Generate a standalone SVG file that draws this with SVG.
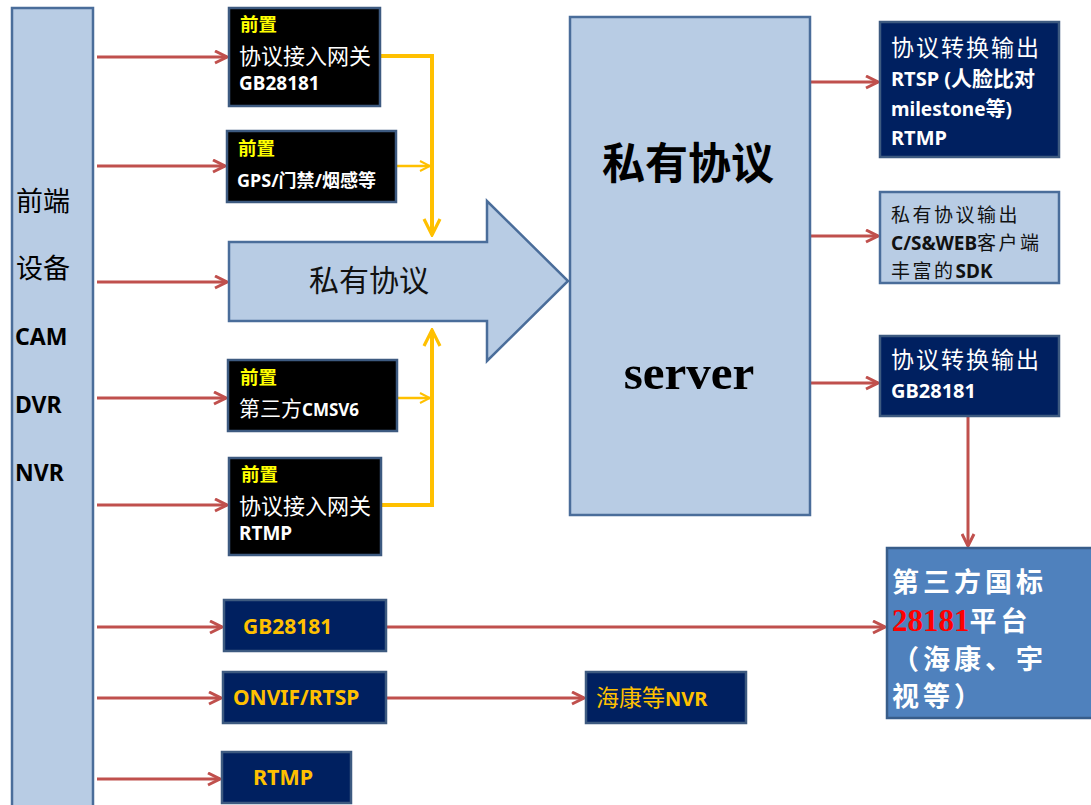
<svg xmlns="http://www.w3.org/2000/svg" width="1091" height="805" viewBox="0 0 1091 805">
<defs>
<style>
.lb{fill:#b8cce4;stroke:#4a6d9a;stroke-width:2.5}
.blk{fill:#000;stroke:#3d5a80;stroke-width:2.5}
.nv{fill:#002060;stroke:#3d5a80;stroke-width:2.5}
.t{font-family:"Noto Sans","Noto Sans CJK SC",sans-serif}
.cj{font-family:"Noto Sans CJK SC",sans-serif}
.yb{fill:#ffff00;font-weight:bold;font-size:18.5px}
.w{fill:#fff}
.red{stroke:#c0504d;stroke-width:3;fill:none}
.yel{stroke:#ffc000;stroke-width:4;fill:none}
.yel2{stroke:#ffc000;stroke-width:2.5;fill:none}
.pf{font-size:27px;font-weight:bold;letter-spacing:4px}
.pc{font-family:"Noto Sans CJK SC",sans-serif;font-weight:normal;font-size:19px;letter-spacing:2.5px}
</style>
<marker id="ra" viewBox="0 0 10 10" refX="9" refY="5" markerWidth="5" markerHeight="5" orient="auto" markerUnits="strokeWidth">
<path d="M1,1 L9,5 L1,9" fill="none" stroke="#c0504d" stroke-width="2"/>
</marker>
<marker id="ya" viewBox="0 0 10 10" refX="9" refY="5" markerWidth="5" markerHeight="5" orient="auto" markerUnits="strokeWidth">
<path d="M1,1 L9,5 L1,9" fill="none" stroke="#ffc000" stroke-width="1.6"/>
</marker>
<marker id="ya2" viewBox="0 0 10 10" refX="9" refY="5" markerWidth="5" markerHeight="5" orient="auto" markerUnits="strokeWidth">
<path d="M1,1 L9,5 L1,9" fill="none" stroke="#ffc000" stroke-width="1.6"/>
</marker>
</defs>
<rect width="1091" height="805" fill="#fff"/>

<g id="connectors">
<line class="red" x1="97" y1="57" x2="227" y2="57" marker-end="url(#ra)"/>
<line class="red" x1="97" y1="166" x2="225" y2="166" marker-end="url(#ra)"/>
<line class="red" x1="97" y1="282" x2="227" y2="282" marker-end="url(#ra)"/>
<line class="red" x1="97" y1="398" x2="226" y2="398" marker-end="url(#ra)"/>
<line class="red" x1="97" y1="505" x2="227" y2="505" marker-end="url(#ra)"/>
<line class="red" x1="97" y1="627" x2="222" y2="627" marker-end="url(#ra)"/>
<line class="red" x1="97" y1="698" x2="221" y2="698" marker-end="url(#ra)"/>
<line class="red" x1="97" y1="779" x2="220" y2="779" marker-end="url(#ra)"/>
<line class="red" x1="810" y1="82" x2="878" y2="82" marker-end="url(#ra)"/>
<line class="red" x1="810" y1="236" x2="878" y2="236" marker-end="url(#ra)"/>
<line class="red" x1="810" y1="383" x2="878" y2="383" marker-end="url(#ra)"/>
<line class="red" x1="968" y1="417" x2="968" y2="546" marker-end="url(#ra)"/>
<line class="red" x1="387" y1="627" x2="885" y2="627" marker-end="url(#ra)"/>
<line class="red" x1="387" y1="698" x2="584" y2="698" marker-end="url(#ra)"/>
<polyline class="yel" points="381,56 432,56 432,235" marker-end="url(#ya)"/>
<polyline class="yel" points="382,505 432,505 432,330" marker-end="url(#ya)"/>
<line class="yel2" x1="397" y1="166" x2="430" y2="166" marker-end="url(#ya2)"/>
<line class="yel2" x1="398" y1="398" x2="430" y2="398" marker-end="url(#ya2)"/>
</g>

<g id="front">
<rect class="lb" x="12" y="8" width="81" height="810"/>
<text class="cj" x="16" y="211" font-size="27">前端</text>
<text class="cj" x="16" y="278" font-size="27">设备</text>
<text class="t" x="15" y="345" font-size="23" font-weight="bold">CAM</text>
<text class="t" x="15" y="413" font-size="23" font-weight="bold">DVR</text>
<text class="t" x="15" y="481" font-size="23" font-weight="bold">NVR</text>
</g>

<g id="gw-gb">
<rect class="blk" x="229" y="8" width="151" height="98"/>
<text class="t yb" x="240" y="31">前置</text>
<text class="cj w" x="239" y="64" font-size="22">协议接入网关</text>
<text class="t w" x="239" y="90" font-size="19" font-weight="bold">GB28181</text>
</g>

<g id="gw-gps">
<rect class="blk" x="227" y="131" width="169" height="71"/>
<text class="t yb" x="238" y="155">前置</text>
<text class="t w" x="237" y="187" font-size="18" font-weight="bold">GPS/门禁/烟感等</text>
</g>

<g id="private-arrow">
<path class="lb" d="M229,242 L487,242 L487,201 L568,281 L487,361 L487,321 L229,321 Z"/>
<text class="cj" x="369" y="291" font-size="30" text-anchor="middle" fill="#111">私有协议</text>
</g>

<g id="gw-cms">
<rect class="blk" x="228" y="360" width="169" height="71"/>
<text class="t yb" x="240" y="384">前置</text>
<text class="cj w" x="239" y="416" font-size="21">第三方<tspan class="t" font-size="17" font-weight="bold">CMSV6</tspan></text>
</g>

<g id="gw-rtmp">
<rect class="blk" x="229" y="458" width="152" height="97"/>
<text class="t yb" x="241" y="481">前置</text>
<text class="cj w" x="239" y="514" font-size="22">协议接入网关</text>
<text class="t w" x="239" y="540" font-size="19" font-weight="bold">RTMP</text>
</g>

<g id="gb28181">
<rect class="nv" x="224" y="600" width="162" height="51"/>
<text class="t" x="243" y="634" font-size="21" font-weight="bold" fill="#ffc000">GB28181</text>
</g>
<g id="onvif">
<rect class="nv" x="223" y="672" width="163" height="51"/>
<text class="t" x="233" y="705" font-size="21" font-weight="bold" fill="#ffc000">ONVIF/RTSP</text>
</g>
<g id="rtmp">
<rect class="nv" x="222" y="752" width="129" height="51"/>
<text class="t" x="253" y="785" font-size="21.5" font-weight="bold" fill="#ffc000">RTMP</text>
</g>
<g id="nvr">
<rect class="nv" x="586" y="672" width="160" height="51"/>
<text class="cj" x="596" y="706" font-size="23" fill="#ffc000">海康等<tspan class="t" font-size="20" font-weight="bold">NVR</tspan></text>
</g>

<g id="server">
<rect class="lb" x="570" y="17" width="240" height="498"/>
<text class="cj" x="688" y="179" font-size="43" font-weight="bold" text-anchor="middle" fill="#000">私有协议</text>
<text x="689" y="389" font-family="'Liberation Serif',serif" font-size="49" font-weight="bold" text-anchor="middle" fill="#000">server</text>
</g>

<g id="out-rtsp">
<rect class="nv" x="880" y="22" width="179" height="135"/>
<text class="cj w" x="891" y="56" font-size="23" letter-spacing="2">协议转换输出</text>
<text class="t w" x="891" y="86" font-size="20" font-weight="bold">RTSP (<tspan font-size="21">人脸比对</tspan></text>
<text class="t w" x="891" y="116" font-size="19" font-weight="bold">milestone<tspan font-size="20">等</tspan>)</text>
<text class="t w" x="891" y="145" font-size="20" font-weight="bold">RTMP</text>
</g>

<g id="out-private">
<rect class="lb" x="880" y="192" width="179" height="91"/>
<text class="pc" x="891" y="222" fill="#111">私有协议输出</text>
<text class="t" x="891" y="250" font-size="19" font-weight="bold" fill="#111">C/S&amp;WEB<tspan class="pc">客户端</tspan></text>
<text class="t" x="891" y="278" font-size="19" font-weight="bold" fill="#111"><tspan class="pc">丰富的</tspan>SDK</text>
</g>

<g id="out-gb">
<rect class="nv" x="880" y="336" width="179" height="80"/>
<text class="cj w" x="891" y="368" font-size="23" letter-spacing="2">协议转换输出</text>
<text class="t w" x="891" y="398" font-size="20" font-weight="bold">GB28181</text>
</g>

<g id="platform">
<rect x="887" y="548" width="210" height="170" fill="#4f81bd" stroke="#385d8a" stroke-width="2.5"/>
<text class="cj w pf" x="892" y="592">第三方国标</text>
<text class="cj w pf" x="892" y="631"><tspan font-family="'Liberation Serif',serif" fill="#ff0000" font-size="31" letter-spacing="0">28181</tspan>平台</text>
<text class="cj w pf" x="892" y="669">（海康、宇</text>
<text class="cj w pf" x="892" y="706">视等）</text>
</g>
</svg>
